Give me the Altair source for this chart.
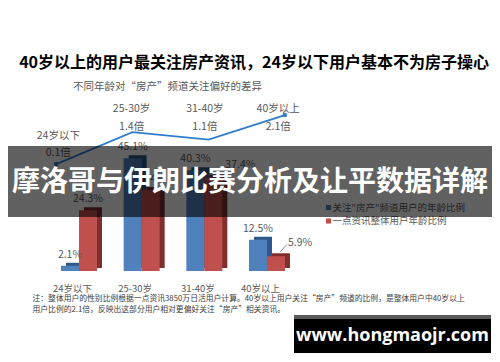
import altair as alt
import pandas as pd

# ---------------- data ----------------
categories = ["24岁以下", "25-30岁", "31-40岁", "40岁以上"]
channel_share = [2.1, 45.1, 40.3, 12.5]      # 关注“房产”频道用户的年龄比例 (%)
overall_share = [24.3, 32.4, 37.4, 5.9]      # 一点资讯整体用户年龄比例 (%)
multiples = [0.1, 1.4, 1.1, 2.1]             # 倍数
series_names = ['关注"房产"频道用户的年龄比例', "一点资讯整体用户年龄比例"]
side_label_cats = ["31-40岁", "40岁以上"]
title_text = "40岁以上的用户最关注房产资讯，24岁以下用户基本不为房子操心"
subtitle_text = "不同年龄对“房产”频道关注偏好的差异"
banner_text = "摩洛哥与伊朗比赛分析及让平数据详解"
note_lines = [
    "注：整体用户的性别比例根据一点资讯3850万日活用户计算。40岁以上用户关注“房产”频道的比例，是整体用户中40岁以上",
    "用户比例的2.1倍，反映出这部分用户相对更偏好关注“房产”相关资讯。",
]
watermark_text = "www.hongmaojr.com"

# ---------------- styles ----------------
FONT = "Noto Sans CJK SC"
GRAY = "#595959"
BLUE, RED = "#4f81bd", "#c0504d"
BLUE_D, RED_D = "#2f5989", "#7f2f2d"
LINE_C = "#2e7dcc"

rows = []
for c, b, r in zip(categories, channel_share, overall_share):
    rows.append({"cat": c, "series": series_names[0], "share": b, "label": f"{b}%"})
    rows.append({"cat": c, "series": series_names[1], "share": r, "label": f"{r}%"})
bars = pd.DataFrame(rows)
line = pd.DataFrame({"cat": categories, "mult": multiples,
                     "mlabel": [f"{m}倍" for m in multiples]})
legend_df = pd.DataFrame({"series": series_names})
one = pd.DataFrame({"t": [banner_text], "title": [title_text], "sub": [subtitle_text],
                    "wm": [watermark_text], "n1": [note_lines[0]], "n2": [note_lines[1]]})

# ---------------- scales ----------------
xb = alt.Scale(domain=categories, range=[39.67, 290.33], paddingInner=0.7128, paddingOuter=0.3564)
yb = alt.Scale(domain=[0, 50], range=[263, 138], nice=False, zero=True)
xl = alt.Scale(type="point", domain=categories, range=[48.2, 276.8], padding=0)
xlab = alt.Scale(type="point", domain=categories, range=[50.3, 270.2], padding=0)
yl = alt.Scale(domain=[0, 2.5], range=[158.5, 97.25], nice=False, zero=False)

X = alt.X("cat:N", scale=xb, axis=None)
Y = alt.Y("share:Q", scale=yb, axis=None)

bb = alt.Chart(bars)
is_blue = alt.datum.series == series_names[0]
is_red = alt.datum.series == series_names[1]


def bar_layer(cond, color, dx, dy):
    return bb.transform_filter(cond).mark_bar(
        color=color, xOffset=dx, x2Offset=dx, yOffset=dy, y2Offset=dy
    ).encode(x=X, y=Y)


blue_back = bar_layer(is_blue, BLUE_D, -4, -3)
red_back = bar_layer(is_red, RED_D, 14, -3)
blue_front = bar_layer(is_blue, BLUE, -9, 0)
red_front = bar_layer(is_red, RED, 9, 0)

txt = dict(font=FONT, fontSize=10.5, color=GRAY, baseline="middle")
blue_lab = bb.transform_filter(is_blue).mark_text(dx=-9, dy=-11, **txt).encode(x=X, y=Y, text="label:N")
side = alt.FieldOneOfPredicate(field="cat", oneOf=side_label_cats)
red_lab_c = bb.transform_filter(is_red).transform_filter(~side).mark_text(
    dx=9, dy=-11, **txt).encode(x=X, y=Y, text="label:N")
red_lab_s = bb.transform_filter(is_red).transform_filter(side).mark_text(
    dx=21, dy=-13, align="left", **txt).encode(x=X, y=Y, text="label:N")
leaders = bb.transform_filter(is_red).transform_filter(side).mark_rule(
    color="#8c8c8c", strokeWidth=1, xOffset=13, x2Offset=20, yOffset=-4, y2Offset=-12
).encode(x=X, x2=alt.X2("cat"), y=Y, y2=alt.Y2("share"))

cat_labels = alt.Chart(line).mark_text(dx=-6.5, font=FONT, fontSize=9.5, color=GRAY).encode(
    x=X, y=alt.value(281), text="cat:N")

# ---------------- line ----------------
lb = alt.Chart(line)
XL = alt.X("cat:N", scale=xl, axis=None)
YL = alt.Y("mult:Q", scale=yl, axis=None)
line_mark = lb.mark_line(color=LINE_C, strokeWidth=1.8).encode(x=XL, y=YL)
ends = lb.transform_filter(
    alt.FieldOneOfPredicate(field="cat", oneOf=[categories[0], categories[-1]])
).mark_point(filled=True, size=20, color=LINE_C, opacity=1).encode(x=XL, y=YL)

XLAB = alt.X("cat:N", scale=xlab, axis=None)
first = alt.datum.cat == categories[0]
ltxt = dict(font=FONT, fontSize=10.5, color=GRAY, baseline="middle")
lname0 = lb.transform_filter(first).mark_text(**ltxt).encode(x=XLAB, y=alt.value(128), text="cat:N")
lmult0 = lb.transform_filter(first).mark_text(**ltxt).encode(x=XLAB, y=alt.value(145), text="mlabel:N")
lname = lb.transform_filter(~first).mark_text(**ltxt).encode(x=XLAB, y=alt.value(101), text="cat:N")
lmult = lb.transform_filter(~first).mark_text(**ltxt).encode(x=XLAB, y=alt.value(119), text="mlabel:N")

# ---------------- legend ----------------
lg = alt.Chart(legend_df)
LY = alt.Y("series:N", scale=alt.Scale(type="point", domain=series_names, range=[199.5, 213], padding=0), axis=None)
leg_sym = lg.mark_square(size=26, opacity=1).encode(
    x=alt.value(320.5), y=LY,
    color=alt.Color("series:N", scale=alt.Scale(domain=series_names, range=[BLUE, RED]), legend=None))
leg_txt = lg.mark_text(align="left", font=FONT, fontSize=9.5, color=GRAY, baseline="middle").encode(
    x=alt.value(324.5), y=LY, text="series:N")

# ---------------- texts / overlay ----------------
ob = alt.Chart(one)
title = ob.mark_text(font=FONT, fontSize=16, fontWeight="bold", color="black").encode(
    x=alt.value(246), y=alt.value(55), text="title:N")
subtitle = ob.mark_text(font=FONT, fontSize=10.5, color=GRAY).encode(
    x=alt.value(159.5), y=alt.value(79), text="sub:N")
note1 = ob.mark_text(font=FONT, fontSize=7.8, color="#404040", align="left").encode(
    x=alt.value(24.5), y=alt.value(291), text="n1:N")
note2 = ob.mark_text(font=FONT, fontSize=7.8, color="#404040", align="left").encode(
    x=alt.value(24.5), y=alt.value(302), text="n2:N")
overlay = ob.mark_rect(color="black", opacity=0.62).encode(
    x=alt.value(0), x2=alt.value(484), y=alt.value(138), y2=alt.value(209))
banner = ob.mark_text(font=FONT, fontSize=28, fontWeight="bold", color="white").encode(
    x=alt.value(242), y=alt.value(175), text="t:N")
wm_strip = ob.mark_rect(color="#5a5a5a").encode(
    x=alt.value(286), x2=alt.value(483), y=alt.value(307), y2=alt.value(311))
wm_box = ob.mark_rect(color="black").encode(
    x=alt.value(286), x2=alt.value(483), y=alt.value(311), y2=alt.value(345))
wm_txt = ob.mark_text(font="Open Sans", fontSize=18, fontWeight="bold", color="white").encode(
    x=alt.value(384.5), y=alt.value(328), text="wm:N")

chart = alt.layer(
    blue_back, red_back, blue_front, red_front,
    blue_lab, red_lab_c, red_lab_s, leaders, cat_labels,
    line_mark, ends, lname0, lmult0, lname, lmult,
    leg_sym, leg_txt,
    title, subtitle, note1, note2,
    overlay, banner, wm_strip, wm_box, wm_txt,
).resolve_scale(
    x="independent", y="independent", color="independent"
).properties(
    width=484, height=346, autosize=alt.AutoSizeParams(type="none"), padding=0,
    background="white",
).configure_view(stroke=None)

chart.save("out.html", embed_options={"renderer": "svg", "actions": False})
